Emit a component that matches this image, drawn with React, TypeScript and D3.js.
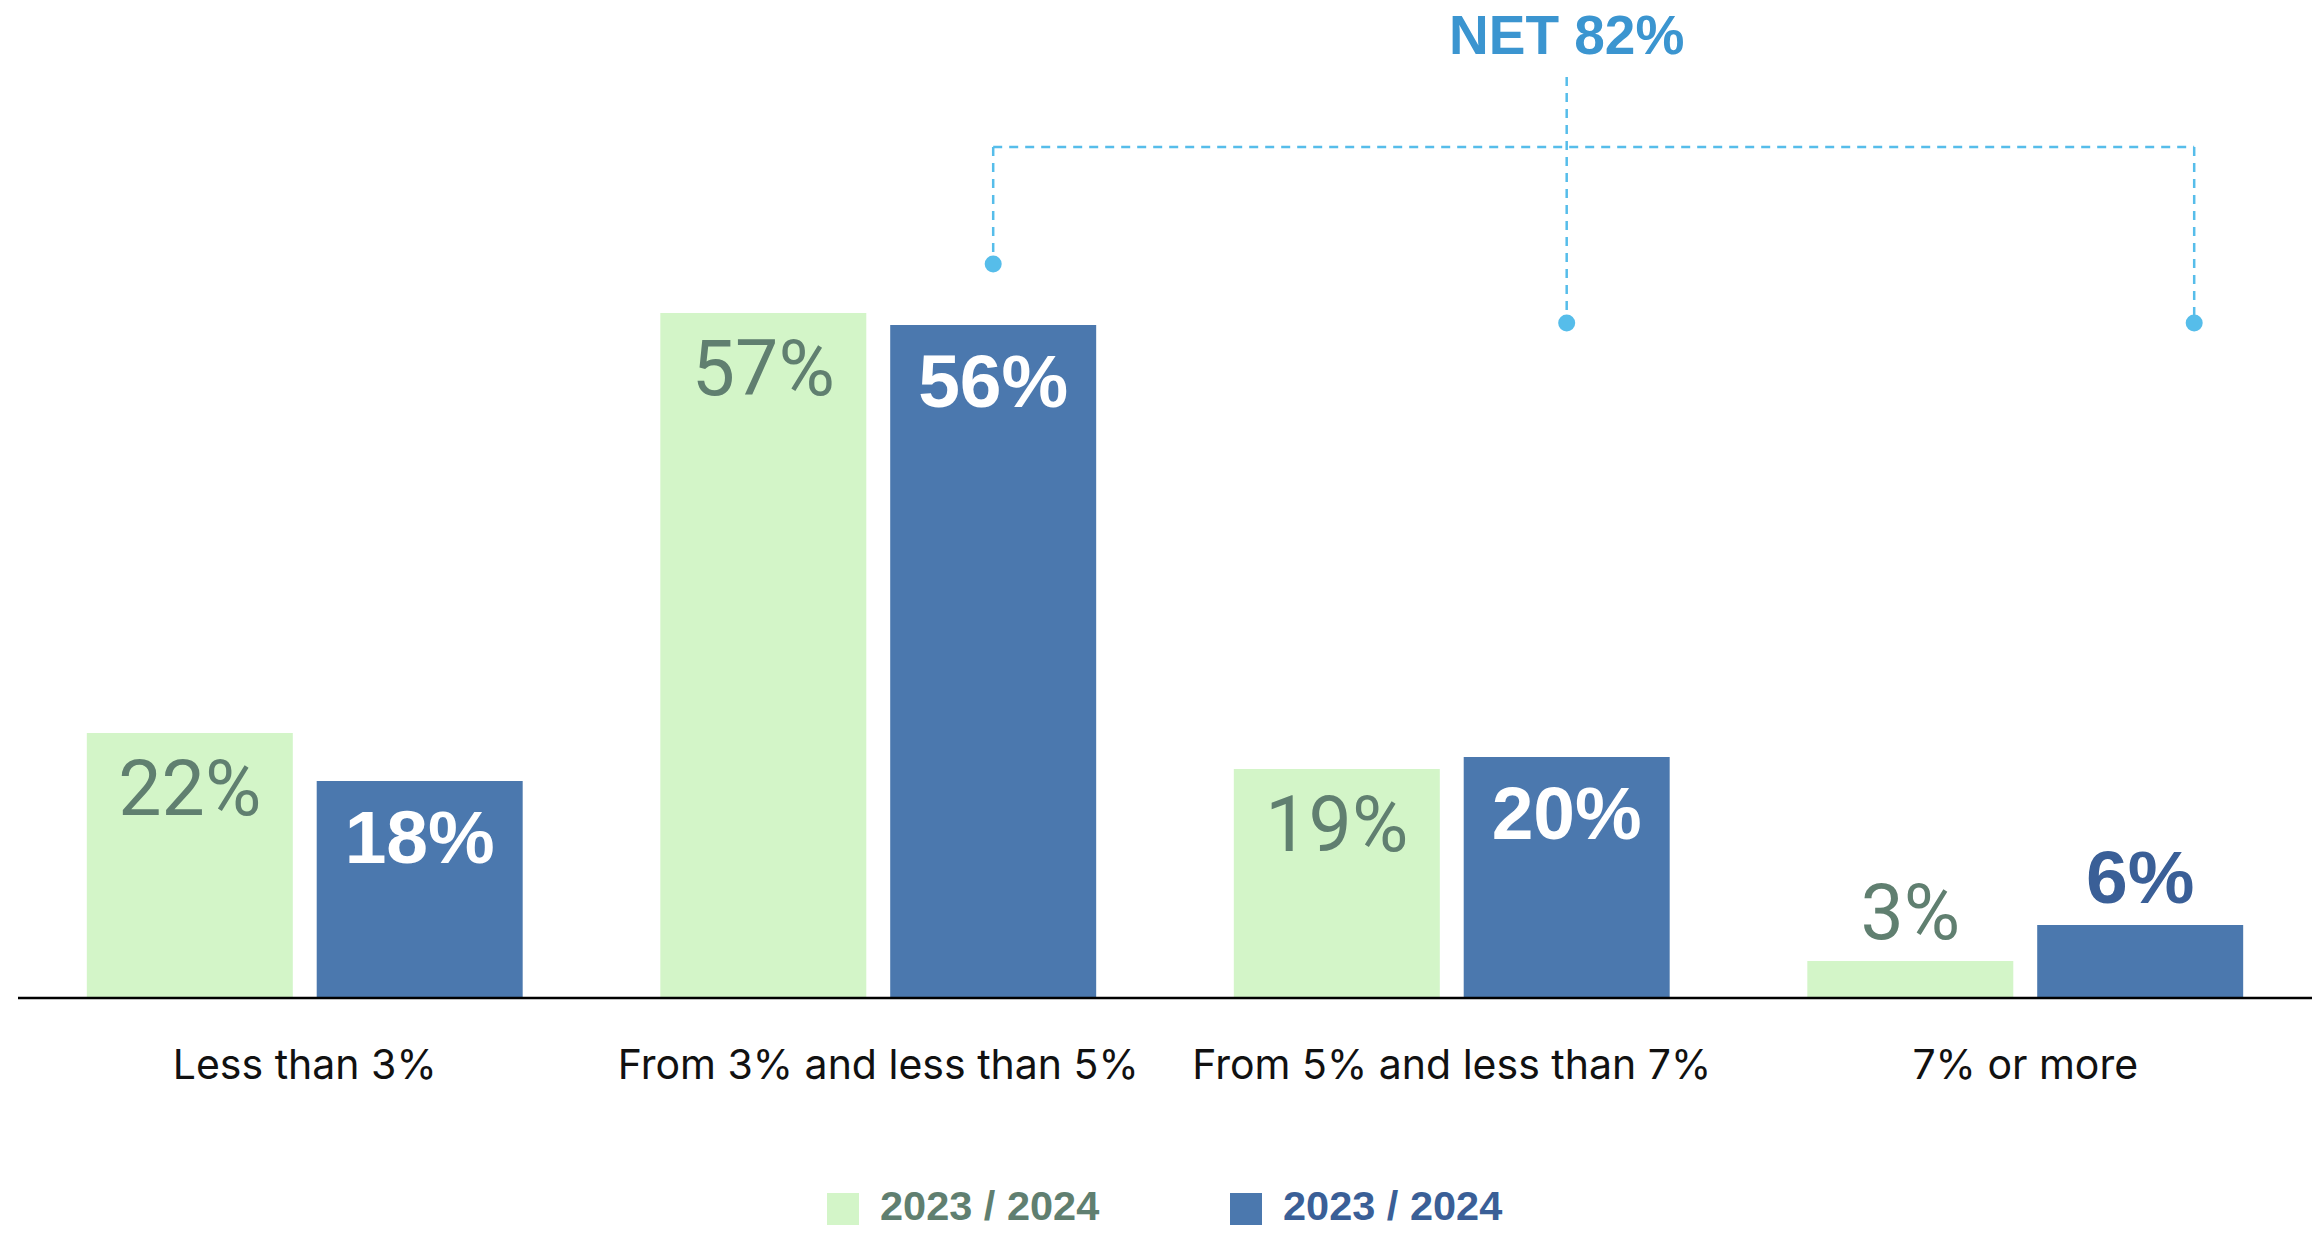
import React from "react";
import * as d3 from "d3";

// chart data
const categories = [
  "Less than 3%",
  "From 3% and less than 5%",
  "From 5% and less than 7%",
  "7% or more",
];
const seriesKeys = ["prev", "curr"];
const seriesLabels = ["2023 / 2024", "2023 / 2024"];
const prevValues = [22, 57, 19, 3];
const currValues = [18, 56, 20, 6];
const netLabel = "NET 82%";

const W = 2324;
const H = 1243;
const baseY = 997;

const barFill = { prev: "#d3f5c8", curr: "#4b78ae" };
const insideText = { prev: "#607f70", curr: "#ffffff" };
const outsideText = { prev: "#607f70", curr: "#3a5f97" };
const legendText = { prev: "#607f70", curr: "#3a5f97" };
const bracketColor = "#56bdea";
const sansBold = "'Liberation Sans', Arial, sans-serif";

const App = () => {
  const x0 = d3
    .scaleBand()
    .domain(categories)
    .range([18, 2312])
    .paddingInner(0.24)
    .paddingOuter(0.12);

  const x1 = d3
    .scaleBand()
    .domain(seriesKeys)
    .range([0, x0.bandwidth()])
    .paddingInner(0.104);

  const y = d3.scaleLinear().domain([0, 60]).range([baseY, 277]);

  const rows = categories.map((c, i) => ({
    category: c,
    values: [
      { key: "prev", value: prevValues[i] },
      { key: "curr", value: currValues[i] },
    ],
  }));

  const barCenter = (cat, key) => x0(cat) + x1(key) + x1.bandwidth() / 2;

  // NET bracket anchors
  const leftX = barCenter(categories[1], "curr");
  const midX = barCenter(categories[2], "curr");
  const rightX = barCenter(categories[3], "curr") + 54;
  const bracketY = 147;
  const dash = "9,7";

  return (
    <svg
      width={W}
      height={H}
      style={{ position: "absolute", left: 0, top: 0, display: "block", background: "#fff" }}
    >
      {rows.map((r) => (
        <g key={r.category}>
          {r.values.map((v) => {
            const bx = x0(r.category) + x1(v.key);
            const by = y(v.value);
            const bh = baseY - by;
            const inside = bh > 110;
            const bold = v.key === "curr";
            return (
              <g key={v.key}>
                <rect x={bx} y={by} width={x1.bandwidth()} height={bh} fill={barFill[v.key]} />
                <text
                  x={bx + x1.bandwidth() / 2}
                  y={inside ? by + 82 : by - 22}
                  textAnchor="middle"
                  fontFamily={bold ? sansBold : "Roboto, sans-serif"}
                  fontSize={bold ? 75 : 77}
                  fontWeight={bold ? 700 : 400}
                  fill={inside ? insideText[v.key] : outsideText[v.key]}
                >
                  {v.value}%
                </text>
              </g>
            );
          })}
          <text
            x={x0(r.category) + x0.bandwidth() / 2}
            y={1079}
            textAnchor="middle"
            fontFamily="Inter, sans-serif"
            fontSize={41}
            fill="#111"
          >
            {r.category}
          </text>
        </g>
      ))}

      <line x1={18} x2={2312} y1={baseY + 1} y2={baseY + 1} stroke="#000" strokeWidth={2.5} />

      {/* NET bracket */}
      <g stroke={bracketColor} strokeWidth={2.5} strokeDasharray={dash} fill="none">
        <line x1={leftX} x2={rightX} y1={bracketY} y2={bracketY} />
        <line x1={leftX} x2={leftX} y1={bracketY} y2={264} />
        <line x1={midX} x2={midX} y1={77} y2={323} />
        <line x1={rightX} x2={rightX} y1={bracketY} y2={323} />
      </g>
      <circle cx={leftX} cy={264} r={8.5} fill={bracketColor} />
      <circle cx={midX} cy={323} r={8.5} fill={bracketColor} />
      <circle cx={rightX} cy={323} r={8.5} fill={bracketColor} />
      <text
        x={midX}
        y={54}
        textAnchor="middle"
        fontFamily={sansBold}
        fontWeight={700}
        fontSize={55}
        fill="#3b95d0"
      >
        {netLabel}
      </text>

      {/* legend */}
      {seriesKeys.map((k, i) => {
        const lx = [827, 1230][i];
        return (
          <g key={k}>
            <rect x={lx} y={1193} width={32} height={32} fill={barFill[k]} />
            <text
              x={lx + 53}
              y={1220}
              fontFamily={sansBold}
              fontWeight={700}
              fontSize={41.5}
              fill={legendText[k]}
            >
              {seriesLabels[i]}
            </text>
          </g>
        );
      })}
    </svg>
  );
};

export default App;
